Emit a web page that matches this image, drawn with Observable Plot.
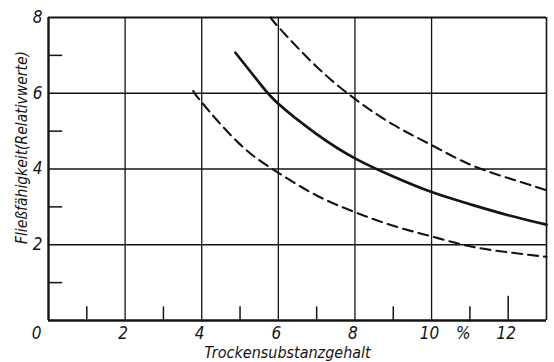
<!DOCTYPE html>
<html><head><meta charset="utf-8">
<script src="https://cdn.jsdelivr.net/npm/d3@7"></script>
<script src="https://cdn.jsdelivr.net/npm/@observablehq/plot@0.6"></script>
<style>body{margin:0;background:#fff}</style>
</head><body><div id="chart"></div>
<script>
// Curves
const xSolid = [4.88, 5.5, 6, 7, 8, 9, 10, 11, 12, 13];
const ySolid = [7.07, 6.28, 5.72, 4.92, 4.28, 3.8, 3.39, 3.07, 2.78, 2.53];
const xUpper = [5.8, 6, 7, 8, 9, 10, 11, 12, 13];
const yUpper = [8.0, 7.75, 6.7, 5.85, 5.17, 4.63, 4.12, 3.76, 3.44];
const xLower = [3.78, 4, 5, 6, 7, 8, 9, 10, 11, 12, 13];
const yLower = [6.06, 5.76, 4.65, 3.9, 3.3, 2.86, 2.5, 2.22, 1.96, 1.8, 1.68];
// Grid and ticks
const xGrid = [2, 4, 6, 8, 10];
const yGrid = [2, 4, 6];
const xMinor = [1, 3, 5, 7, 9, 11];
const xLongTick = [12];
const yMinor = [1, 3, 5, 7];
const xTickLabels = [2, 4, 6, 8, 10, 12];
const yTickLabels = [2, 4, 6, 8];
const originLabel = ["0"];
const unitLabel = [{x: 10.83, text: "%"}];
const xTitle = ["Trockensubstanzgehalt"];
const yTitle = ["Fließfähigkeit(Relativwerte)"];

const pts = (xs, ys) => xs.map((x, i) => ({x, y: ys[i]}));
const ink = "#141414";
const numFont = "'Liberation Sans Narrow', 'DejaVu Sans Condensed', sans-serif";

const chart = Plot.plot({
  width: 554, height: 362,
  marginLeft: 48, marginRight: 8, marginTop: 17, marginBottom: 42,
  x: {domain: [0, 13], axis: null},
  y: {domain: [0, 8], axis: null},
  style: {fontFamily: "'DejaVu Sans Condensed', 'DejaVu Sans', sans-serif", fontStyle: "oblique", fontSize: "16px", background: "#fff", color: ink},
  marks: [
    Plot.ruleX(xGrid, {x: d => d, stroke: ink, strokeWidth: 1.3}),
    Plot.ruleY(yGrid, {y: d => d, stroke: ink, strokeWidth: 1.3}),
    Plot.ruleX(xMinor, {x: d => d, y1: 0, y2: 0.36, stroke: ink, strokeWidth: 1.5}),
    Plot.ruleX(xLongTick, {x: d => d, y1: 0, y2: 0.64, stroke: ink, strokeWidth: 1.5}),
    Plot.ruleY(yMinor, {y: d => d, x1: 0, x2: 0.37, stroke: ink, strokeWidth: 1.5}),
    Plot.ruleX([0], {x: d => d, stroke: ink, strokeWidth: 2.4}),
    Plot.ruleY([0], {y: d => d, stroke: ink, strokeWidth: 2.4}),
    Plot.ruleY([8], {y: d => d, stroke: ink, strokeWidth: 2}),
    Plot.ruleX([13], {x: d => d, stroke: ink, strokeWidth: 1.6}),
    Plot.line(pts(xUpper, yUpper), {x: "x", y: "y", curve: "natural", stroke: ink, strokeWidth: 2.1, strokeDasharray: "10,6"}),
    Plot.line(pts(xLower, yLower), {x: "x", y: "y", curve: "natural", stroke: ink, strokeWidth: 2.1, strokeDasharray: "10,6"}),
    Plot.line(pts(xSolid, ySolid), {x: "x", y: "y", curve: "natural", stroke: ink, strokeWidth: 2.7}),
    Plot.text(xTickLabels, {x: d => d, y: 0, dx: -2, dy: 13.5, text: d => String(d), fill: ink, fontFamily: numFont, fontSize: 17, fontStyle: "italic"}),
    Plot.text(originLabel, {x: 0, y: 0, dx: -12, dy: 13.5, text: d => d, fill: ink, fontFamily: numFont, fontSize: 17, fontStyle: "italic"}),
    Plot.text(yTickLabels, {x: 0, y: d => d, dx: -11, text: d => String(d), fill: ink, fontFamily: numFont, fontSize: 17, fontStyle: "italic"}),
    Plot.text(unitLabel, {x: "x", y: 0, dy: 13.5, text: "text", fill: ink, fontFamily: numFont, fontSize: 17, fontStyle: "italic"}),
    Plot.text(xTitle, {frameAnchor: "bottom", lineAnchor: "middle", textAnchor: "middle", dx: -10, dy: 32, text: d => d, fill: ink, fontSize: 16}),
    Plot.text(yTitle, {frameAnchor: "left", lineAnchor: "middle", textAnchor: "middle", dx: -26, dy: -21.5, rotate: -90, text: d => d, fill: ink, fontSize: 15.5})
  ]
});
document.getElementById("chart").appendChild(chart);
</script>
</body></html>
